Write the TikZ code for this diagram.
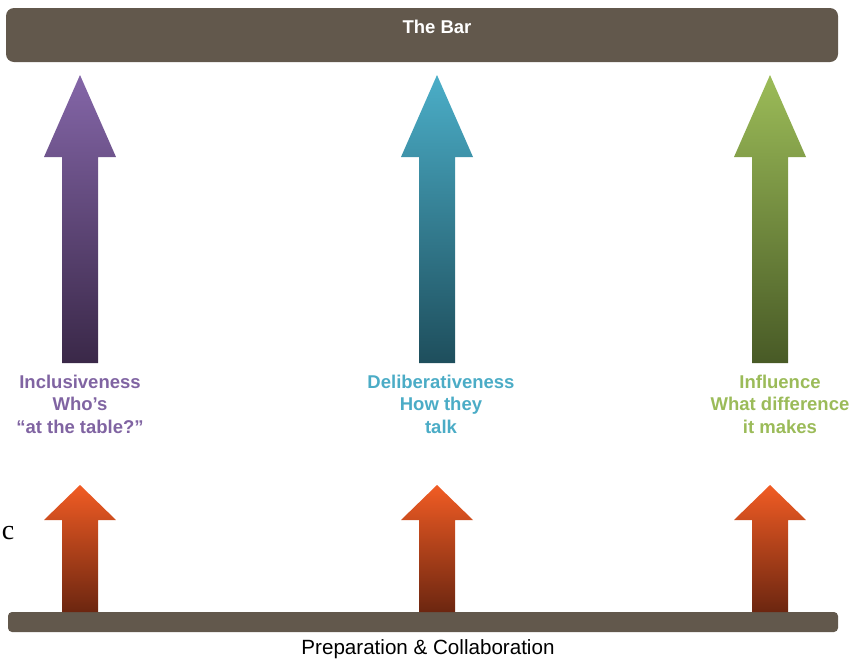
\documentclass[tikz,border=0pt]{standalone}
\usepackage{fontspec}
\setmainfont{Liberation Sans}
\newfontfamily\timesfont{Liberation Serif}
\usetikzlibrary{positioning}

\definecolor{barbrown}{RGB}{98,88,76}
\definecolor{incltop}{RGB}{132,102,168}
\definecolor{inclbot}{RGB}{58,40,72}
\definecolor{delitop}{RGB}{75,174,200}
\definecolor{delibot}{RGB}{30,78,92}
\definecolor{infltop}{RGB}{156,188,88}
\definecolor{inflbot}{RGB}{72,90,38}
\definecolor{preptop}{RGB}{241,92,36}
\definecolor{prepbot}{RGB}{108,38,16}
\definecolor{incltext}{RGB}{128,100,162}
\definecolor{delitext}{RGB}{75,172,198}
\definecolor{infltext}{RGB}{155,187,89}

\tikzset{
  barbox/.style={fill=barbrown, draw=none, rounded corners=#1, inner sep=0pt},
  upshade/.style 2 args={top color=#1, bottom color=#2, draw=none},
  colhead/.style={align=center, text=#1, font=\bfseries\fontsize{18.5}{22.5}\selectfont},
}

% up arrow: centre x, tip y, head base y, foot y, style
\newcommand{\uparr}[5]{%
  \path[#5] (#1-36,#3) -- (#1,#2) -- (#1+36,#3) -- (#1+18,#3)
    -- (#1+18,#4) -- (#1-18,#4) -- (#1-18,#3) -- cycle;}

\begin{document}
\begin{tikzpicture}[x=1pt,y=-1pt]
    \useasboundingbox (0,0) rectangle (862,659);

    % the two bars
    \node[barbox=8pt, minimum width=832pt, minimum height=54pt] (bar) at (422,35) {};
    \node[text=white, font=\bfseries\fontsize{18.5}{20}\selectfont] (bartxt) at (437,27) {The Bar};
    \node[barbox=4pt, minimum width=830pt, minimum height=20pt] (base) at (423,622) {};
    \node[font=\fontsize{20.6}{22}\selectfont, below=4pt of base, xshift=5pt] (preplbl) {Preparation \& Collaboration};

    % big arrows
    \uparr{80}{75}{157}{363}{upshade={incltop}{inclbot}}
    \uparr{437}{75}{157}{363}{upshade={delitop}{delibot}}
    \uparr{770}{75}{157}{363}{upshade={infltop}{inflbot}}

    % small arrows
    \uparr{80}{485}{520}{612}{upshade={preptop}{prepbot}}
    \uparr{437}{485}{520}{612}{upshade={preptop}{prepbot}}
    \uparr{770}{485}{520}{612}{upshade={preptop}{prepbot}}

    % labels
    \node[colhead=incltext] (incl) at (80,404) {Inclusiveness\\Who’s\\“at the table?”};
    \node[colhead=delitext] (deli) at (441,404) {Deliberativeness\\How they\\talk};
    \node[colhead=infltext] (infl) at (780,404) {Influence\\What difference\\it makes};

    \node[font=\timesfont\fontsize{28}{30}\selectfont] (cmark) at (8,533) {c};
\end{tikzpicture}
\end{document}
